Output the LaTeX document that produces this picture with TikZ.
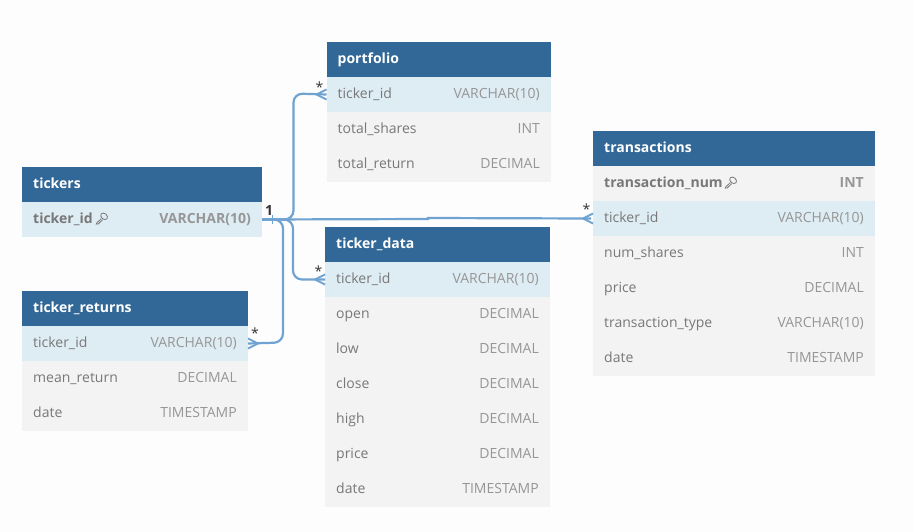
\documentclass[tikz,border=0pt]{standalone}
\usepackage{fontspec}
\setmainfont{Open Sans}
\definecolor{hdr}{HTML}{316897}
\definecolor{rowbg}{HTML}{F3F3F3}
\definecolor{rowhi}{HTML}{DEECF4}
\definecolor{txt}{HTML}{787878}
\definecolor{typ}{HTML}{969696}
\definecolor{conn}{HTML}{6FA3D2}
\definecolor{pagebg}{HTML}{FDFDFD}
\tikzset{
  x=1pt,y=-1pt,
  boxcell/.style={inner sep=0pt,outer sep=0pt,anchor=north west,minimum height=35pt},
  headcell/.style={boxcell,fill=hdr},
  headtext/.style={anchor=west,inner sep=0pt,text=white,text height=10pt,text depth=3pt,font=\fontsize{14}{16}\selectfont\bfseries},
  rowcell/.style={boxcell,fill=rowbg},
  hicell/.style={boxcell,fill=rowhi},
  fieldname/.style={anchor=west,inner sep=0pt,text=txt,text height=10pt,text depth=3pt,font=\fontsize{14}{16}\selectfont},
  keyname/.style={fieldname,font=\fontsize{14}{16}\selectfont\bfseries},
  fieldtype/.style={anchor=east,inner sep=0pt,text=typ,text height=10pt,text depth=3pt,font=\fontsize{14}{16}\selectfont},
  keytype/.style={fieldtype,font=\fontsize{14}{16}\selectfont\bfseries},
  connline/.style={draw=conn,line width=2.2pt,rounded corners=9pt},
  crow/.style={draw=conn,line width=1.8pt},
  cardlabel/.style={inner sep=0pt,text=black!80,font=\fontsize{14}{16}\selectfont},
  keyicon/.style={draw=txt,line width=0.8pt},
}
% \tablehead{name}{x}{y}{width}{title}
\newcommand{\tablehead}[5]{%
  \node[headcell,minimum width=#4pt] (#1) at (#2,#3) {};
  \node[headtext] (#1n) at ([xshift=11pt,yshift=-0.3pt]#1.west) {#5};}
% \tablerow{name}{x}{y}{width}{style}{field style}{type style}{field}{type}
\newcommand{\tablerow}[9]{%
  \node[#5,minimum width=#4pt] (#1) at (#2,#3) {};
  \node[#6] (#1n) at ([xshift=11pt,yshift=-0.4pt]#1.west) {#8};
  \node[#7] (#1t) at ([xshift=-11pt,yshift=-0.4pt]#1.east) {#9};}
\newcommand{\keymark}[2]{%
  \begin{scope}[shift={(#1,#2)}]
    \draw[keyicon,rotate around={-40:(2.6,-2.2)}] (2.6,-2.2) ellipse (3.8pt and 2.8pt);
    \draw[keyicon] (-0.2,0.2) -- (-4.6,4.2) -- (-5.2,5.6) -- (-3.2,5.4) -- (1.2,1.2);
  \end{scope}}
\begin{document}
\begin{tikzpicture}
\useasboundingbox (0,0) rectangle (913,532);
\fill[pagebg] (0,0) rectangle (913,532);

% tickers
\tablehead{tk}{22}{167}{240}{tickers}
\tablerow{tka}{22}{202}{240}{hicell}{keyname}{keytype}{ticker\_id}{VARCHAR(10)}

% ticker_returns
\tablehead{tr}{22}{291}{226}{ticker\_returns}
\tablerow{tra}{22}{326}{226}{hicell}{fieldname}{fieldtype}{ticker\_id}{VARCHAR(10)}
\tablerow{trb}{22}{361}{226}{rowcell}{fieldname}{fieldtype}{mean\_return}{DECIMAL}
\tablerow{trc}{22}{396}{226}{rowcell}{fieldname}{fieldtype}{date}{TIMESTAMP}

% portfolio
\tablehead{pf}{326.5}{42}{224.5}{portfolio}
\tablerow{pfa}{326.5}{77}{224.5}{hicell}{fieldname}{fieldtype}{ticker\_id}{VARCHAR(10)}
\tablerow{pfb}{326.5}{112}{224.5}{rowcell}{fieldname}{fieldtype}{total\_shares}{INT}
\tablerow{pfc}{326.5}{147}{224.5}{rowcell}{fieldname}{fieldtype}{total\_return}{DECIMAL}

% ticker_data
\tablehead{td}{325}{227}{225}{ticker\_data}
\tablerow{tda}{325}{262}{225}{hicell}{fieldname}{fieldtype}{ticker\_id}{VARCHAR(10)}
\tablerow{tdb}{325}{297}{225}{rowcell}{fieldname}{fieldtype}{open}{DECIMAL}
\tablerow{tdc}{325}{332}{225}{rowcell}{fieldname}{fieldtype}{low}{DECIMAL}
\tablerow{tdd}{325}{367}{225}{rowcell}{fieldname}{fieldtype}{close}{DECIMAL}
\tablerow{tde}{325}{402}{225}{rowcell}{fieldname}{fieldtype}{high}{DECIMAL}
\tablerow{tdf}{325}{437}{225}{rowcell}{fieldname}{fieldtype}{price}{DECIMAL}
\tablerow{tdg}{325}{472}{225}{rowcell}{fieldname}{fieldtype}{date}{TIMESTAMP}

% transactions
\tablehead{tx}{593}{131}{282}{transactions}
\tablerow{txa}{593}{166}{282}{rowcell}{keyname}{keytype}{transaction\_num}{INT}
\tablerow{txb}{593}{201}{282}{hicell}{fieldname}{fieldtype}{ticker\_id}{VARCHAR(10)}
\tablerow{txc}{593}{236}{282}{rowcell}{fieldname}{fieldtype}{num\_shares}{INT}
\tablerow{txd}{593}{271}{282}{rowcell}{fieldname}{fieldtype}{price}{DECIMAL}
\tablerow{txe}{593}{306}{282}{rowcell}{fieldname}{fieldtype}{transaction\_type}{VARCHAR(10)}
\tablerow{txf}{593}{341}{282}{rowcell}{fieldname}{fieldtype}{date}{TIMESTAMP}

% key icons
\keymark{101.5}{218.5}
\keymark{730.5}{182.5}

% connectors
\draw[connline] (tka.east) -- (293.5,219.5) -- (293.5,93.5) -- (pfa.west);
\draw[connline] (tka.east) -- (293,219.5) -- (293,279.5) -- (tda.west);
\draw[connline] (tka.east) -- (283,219.5) -- (283,342.5) -- (tra.east);
\draw[connline,rounded corners=0pt] (tka.east) -- (428,219) -- (428,218) -- ([xshift=-2pt]txb.west);

% crow's feet and the one-mark
\draw[crow] (272.5,215) -- (272.5,224);
\foreach \tgt/\sgn in {pfa.west/-1,tda.west/-1,txb.west/-1,tra.east/1}{
  \draw[crow] ([xshift=\sgn*10pt]\tgt) -- ([yshift=-5pt]\tgt)
              ([xshift=\sgn*10pt]\tgt) -- ([yshift=5pt]\tgt);
}

% cardinality labels
\node[cardlabel,font=\fontsize{14}{16}\selectfont\bfseries] (c1) at (269,210.5) {1};
\node[cardlabel] (c2) at (319.5,87.5) {*};
\node[cardlabel] (c3) at (318.5,271) {*};
\node[cardlabel] (c4) at (586.5,209.5) {*};
\node[cardlabel] (c5) at (255,333.5) {*};
\end{tikzpicture}
\end{document}
